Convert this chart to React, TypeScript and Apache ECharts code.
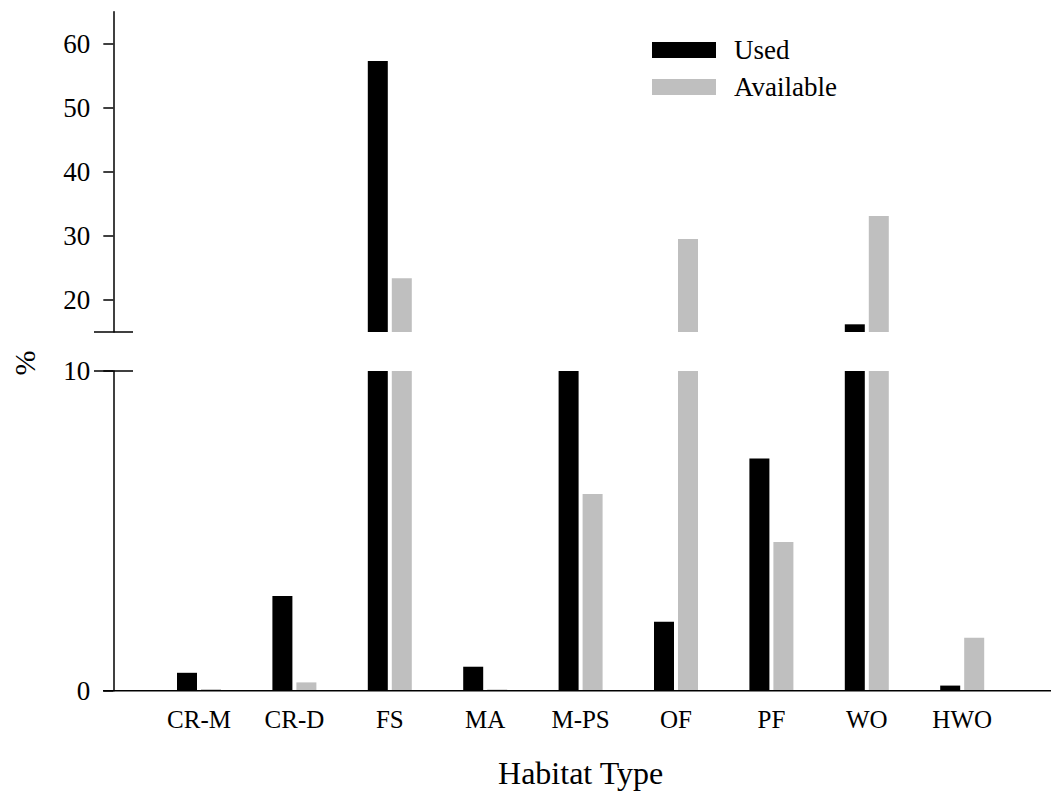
import React, { useEffect, useRef } from "react";
import * as echarts from "echarts";

const categories = ["CR-M", "CR-D", "FS", "MA", "M-PS", "OF", "PF", "WO", "HWO"];
const usedValues = [0.56, 2.96, 57.3, 0.75, 12, 2.16, 7.26, 16.2, 0.16];
const availableValues = [0.05, 0.26, 23.4, 0.04, 6.15, 29.5, 4.65, 33.1, 1.66];
const upperTicks = [20, 30, 40, 50, 60];
const seriesNames = ["Used", "Available"];

const FONT = '"Liberation Serif", "Times New Roman", serif';
const BLACK = "#000000";
const GREY = "#bfbfbf";

export default function App() {
  const ref = useRef<HTMLDivElement>(null);

  useEffect(() => {
    if (!ref.current) return;
    const chart = echarts.init(ref.current, null, { renderer: "svg" });

    const axisLineStyle = { color: BLACK, width: 1.5 };
    const gridLeft = 151.3;
    const gridRight = 41.1;

    const barCommon = {
      type: "bar",
      barWidth: 20,
      barGap: "20%",
      clip: true,
    };

    const option: any = {
      animation: false,
      backgroundColor: "#ffffff",
      legend: {
        data: seriesNames,
        orient: "vertical",
        left: 652,
        top: 36,
        padding: 0,
        itemWidth: 64,
        itemHeight: 16,
        itemGap: 9,
        icon: "rect",
        textStyle: {
          fontFamily: FONT,
          fontSize: 27,
          color: BLACK,
          lineHeight: 28,
          padding: [0, 0, 0, 13],
        },
      },
      grid: [
        { left: gridLeft, right: gridRight, top: 11.7, height: 320.3 },
        { left: gridLeft, right: gridRight, top: 371, height: 319.7 },
      ],
      xAxis: [
        {
          type: "category",
          gridIndex: 0,
          data: categories,
          show: false,
        },
        {
          type: "category",
          gridIndex: 1,
          data: categories,
          axisLine: { show: false },
          axisTick: { show: false },
          axisLabel: {
            fontFamily: FONT,
            fontSize: 25,
            color: BLACK,
            margin: 16,
            interval: 0,
          },
          name: "Habitat Type",
          nameLocation: "middle",
          nameGap: 66,
          nameTextStyle: { fontFamily: FONT, fontSize: 32, color: BLACK },
        },
      ],
      yAxis: [
        {
          type: "value",
          gridIndex: 0,
          min: 15,
          max: 65,
          offset: gridLeft - 113.3,
          axisLine: { show: true, lineStyle: axisLineStyle },
          axisTick: {
            show: true,
            length: 10,
            customValues: upperTicks,
            lineStyle: axisLineStyle,
          },
          axisLabel: {
            customValues: upperTicks,
            fontFamily: FONT,
            fontSize: 27,
            color: BLACK,
            margin: 23,
          },
          splitLine: { show: false },
        },
        {
          type: "value",
          gridIndex: 1,
          min: 0,
          max: 10,
          interval: 10,
          offset: gridLeft - 113.3,
          axisLine: { show: true, lineStyle: axisLineStyle },
          axisTick: { show: true, length: 10, lineStyle: axisLineStyle },
          axisLabel: {
            fontFamily: FONT,
            fontSize: 27,
            color: BLACK,
            margin: 23,
          },
          splitLine: { show: false },
        },
      ],
      series: [
        { ...barCommon, name: "Used", xAxisIndex: 0, yAxisIndex: 0, data: usedValues, itemStyle: { color: BLACK } },
        { ...barCommon, name: "Available", xAxisIndex: 0, yAxisIndex: 0, data: availableValues, itemStyle: { color: GREY } },
        { ...barCommon, name: "Used", xAxisIndex: 1, yAxisIndex: 1, data: usedValues, itemStyle: { color: BLACK } },
        { ...barCommon, name: "Available", xAxisIndex: 1, yAxisIndex: 1, data: availableValues, itemStyle: { color: GREY } },
      ],
      graphic: [
        {
          type: "line",
          shape: { x1: 103, y1: 690.7, x2: 1051, y2: 690.7 },
          style: { stroke: BLACK, lineWidth: 1.5 },
          z: 10,
        },
        {
          type: "line",
          shape: { x1: 94, y1: 332, x2: 133, y2: 332 },
          style: { stroke: BLACK, lineWidth: 1.5 },
          z: 10,
        },
        {
          type: "line",
          shape: { x1: 94, y1: 371, x2: 133, y2: 371 },
          style: { stroke: BLACK, lineWidth: 1.5 },
          z: 10,
        },
        {
          type: "text",
          x: 24,
          y: 363,
          rotation: Math.PI / 2,
          style: {
            text: "%",
            fontFamily: FONT,
            fontSize: 30,
            fill: BLACK,
            align: "center",
            verticalAlign: "middle",
          },
        },
      ],
    };

    chart.setOption(option);
    return () => chart.dispose();
  }, []);

  return (
    <div
      ref={ref}
      style={{ position: "fixed", left: 0, top: 0, width: 1051, height: 799, background: "#fff" }}
    />
  );
}
